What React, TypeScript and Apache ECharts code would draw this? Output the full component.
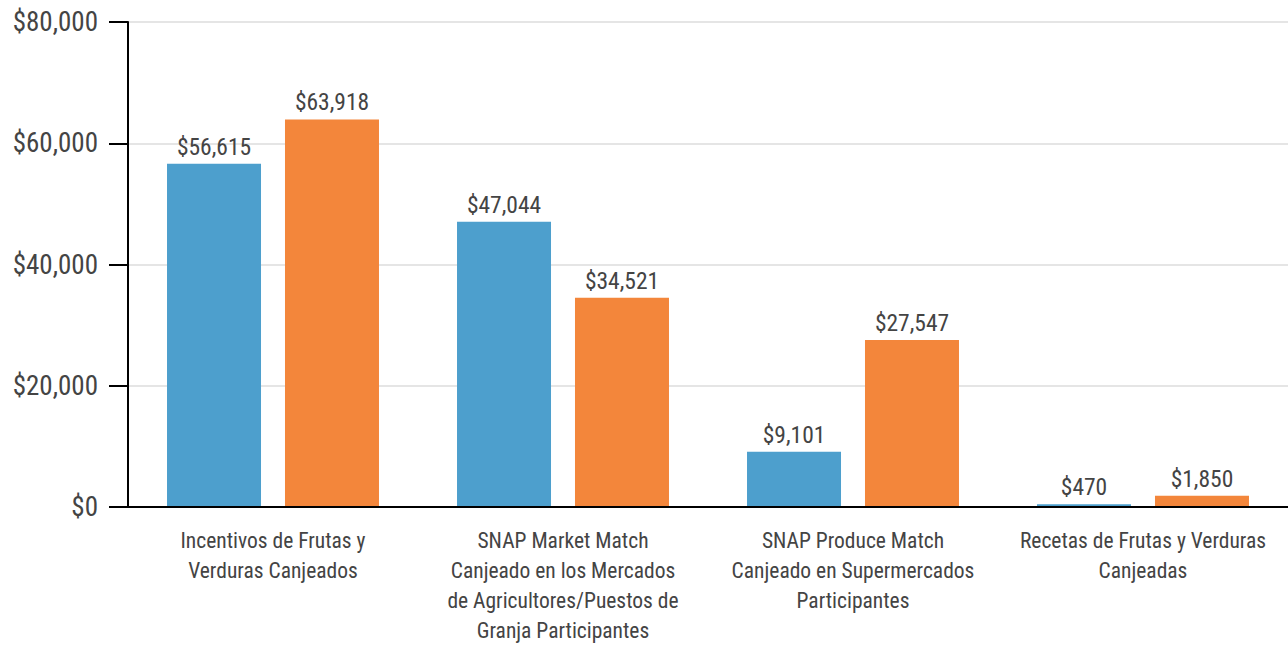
import React, { useEffect, useRef } from "react";
import * as echarts from "echarts";

const categories = [
  "Incentivos de Frutas y\nVerduras Canjeados",
  "SNAP Market Match\nCanjeado en los Mercados\nde Agricultores/Puestos de\nGranja Participantes",
  "SNAP Produce Match\nCanjeado en Supermercados\nParticipantes",
  "Recetas de Frutas y Verduras\nCanjeadas",
];
const seriesA = [56615, 47044, 9101, 470];
const seriesB = [63918, 34521, 27547, 1850];
const yTicks = [0, 20000, 40000, 60000, 80000];

const FONT = "'Roboto Condensed', 'Liberation Sans Narrow', 'DejaVu Sans Condensed', Roboto, sans-serif";
const fmt = (v: number) => "$" + v.toLocaleString("en-US");

export default function App() {
  const ref = useRef<HTMLDivElement>(null);
  useEffect(() => {
    const chart = echarts.init(ref.current!, undefined, { renderer: "svg" });
    chart.setOption({
      animation: false,
      textStyle: { fontFamily: FONT },
      grid: { left: 128, right: -4, top: 22, bottom: 135, containLabel: false },
      xAxis: {
        type: "category",
        data: categories,
        z: 5,
        axisLine: { lineStyle: { color: "#000", width: 2 } },
        axisTick: { length: 18, lineStyle: { color: "#000", width: 2 }, alignWithLabel: true },
        axisLabel: { fontSize: 21.5, lineHeight: 30, color: "#444", margin: 18, fontFamily: FONT, interval: 0 },
      },
      yAxis: {
        type: "value",
        min: yTicks[0],
        max: yTicks[yTicks.length - 1],
        interval: 20000,
        axisLine: { show: true, lineStyle: { color: "#000", width: 2 } },
        axisTick: { show: true, length: 19, lineStyle: { color: "#000", width: 2 } },
        splitLine: { lineStyle: { color: "#dcdcdc", width: 1.5 } },
        axisLabel: { fontSize: 27, color: "#444", margin: 30, fontFamily: FONT, formatter: (v: number) => fmt(v) },
      },
      series: [
        {
          type: "bar",
          data: seriesA,
          barWidth: 94,
          barGap: "25.5%",
          itemStyle: { color: "#4d9fcd" },
          label: { show: true, position: "top", distance: 5, fontSize: 23.5, color: "#444", fontFamily: FONT, formatter: (p: any) => fmt(p.value) },
        },
        {
          type: "bar",
          data: seriesB,
          barWidth: 94,
          barGap: "25.5%",
          itemStyle: { color: "#f3863b" },
          label: { show: true, position: "top", distance: 5, fontSize: 23.5, color: "#444", fontFamily: FONT, formatter: (p: any) => fmt(p.value) },
        },
      ],
    });
    return () => chart.dispose();
  }, []);
  return <div ref={ref} style={{ width: 1288, height: 645, position: "absolute", left: 0, top: 0 }} />;
}
